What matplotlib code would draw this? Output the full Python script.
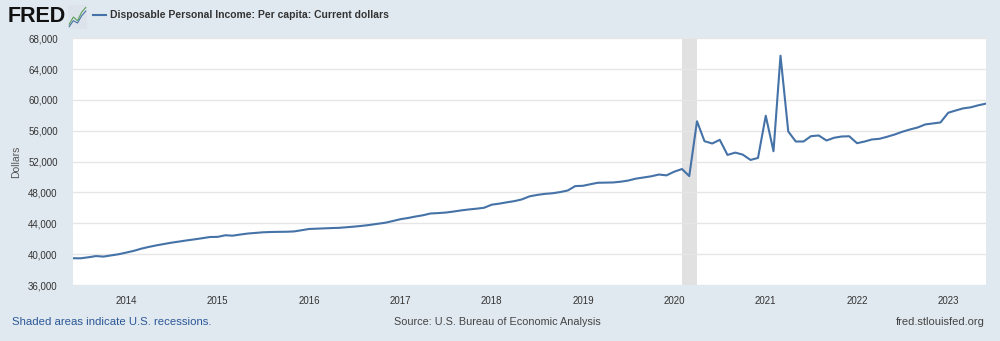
import numpy as np
import pandas as pd
import matplotlib
matplotlib.use('Agg')
import matplotlib.pyplot as plt
import matplotlib.dates as md
from matplotlib.ticker import FuncFormatter

plt.rcParams['font.family'] = ['Liberation Sans', 'DejaVu Sans']

# monthly series, Jun 2013 .. Jun 2023 (dollars, SAAR)
months = pd.date_range('2013-06-01', periods=121, freq='MS')
dspic = [
    39480, 39470, 39600, 39760, 39690, 39850, 40000,               # 2013 Jun-Dec
    40220, 40450, 40720, 40950, 41150, 41330, 41500, 41650, 41800, 41930, 42080, 42230,  # 2014
    42250, 42460, 42400, 42550, 42680, 42760, 42840, 42880, 42900, 42910, 42950, 43100,  # 2015
    43270, 43310, 43350, 43390, 43420, 43500, 43580, 43680, 43800, 43940, 44080, 44300,  # 2016
    44540, 44700, 44880, 45050, 45280, 45330, 45400, 45530, 45680, 45800, 45900, 46020,  # 2017
    46420, 46560, 46720, 46880, 47100, 47500, 47680, 47820, 47900, 48050, 48260, 48830,  # 2018
    48870, 49080, 49260, 49280, 49300, 49400, 49550, 49800, 49950, 50100, 50330, 50220,  # 2019
    50700, 51040, 50130, 57230, 54650, 54350, 54830, 52870, 53170, 52910, 52220, 52480,  # 2020
    57950, 53350, 65730, 55910, 54610, 54610, 55300, 55390, 54740, 55090, 55260, 55290,  # 2021
    54390, 54610, 54870, 54960, 55220, 55520, 55870, 56170, 56430, 56820, 56950, 57080,  # 2022
    58340, 58640, 58900, 59040, 59300, 59520,                       # 2023 Jan-Jun
]
recession_start = pd.Timestamp('2020-02-01')
recession_end = pd.Timestamp('2020-04-01')
year_ticks = pd.date_range('2014-01-01', '2023-01-01', freq='YS')
y_ticks = list(range(36000, 68001, 4000))

series_title = 'Disposable Personal Income: Per capita: Current dollars'
bg = '#e1e9f0'
line_col = '#4572a7'
txt_col = '#333333'

fig = plt.figure(figsize=(10, 3.41), dpi=100, facecolor=bg)
ax = fig.add_axes([0.073, 0.164, 0.913, 0.724])
ax.set_facecolor('white')

ax.axvspan(recession_start, recession_end, color='#e1e1e1', lw=0, zorder=1)
ax.plot(months, dspic, color=line_col, lw=1.5, zorder=3)

ax.set_xlim(months[0], months[-1])
ax.set_ylim(36000, 68000)
ax.set_yticks(y_ticks)
ax.yaxis.set_major_formatter(FuncFormatter(lambda v, p: f'{int(v):,}'))
ax.set_xticks(year_ticks)
ax.xaxis.set_major_formatter(md.DateFormatter('%Y'))
ax.grid(axis='y', color='#e6e6e6', lw=1, zorder=0)
ax.tick_params(length=0, labelsize=7, labelcolor=txt_col)
ax.tick_params(axis='x', pad=8)
ax.tick_params(axis='y', pad=11)
for s in ax.spines.values():
    s.set_visible(False)
ax.set_ylabel('Dollars', fontsize=7.5, color='#555555', labelpad=5)

# header: logo + legend
fig.text(0.008, 0.953, 'FRED', fontsize=15.5, fontweight='heavy', color='#111111',
         va='center', ha='left')
icon = fig.add_axes([0.068, 0.915, 0.019, 0.07])
icon.set_facecolor('#dde3ea')
icon.plot([0, 1, 2, 3, 4], [0.2, 0.5, 0.35, 0.7, 0.9], color='#5aa05a', lw=0.8)
icon.plot([0, 1, 2, 3, 4], [0.1, 0.35, 0.25, 0.55, 0.75], color='#4572a7', lw=0.8)
icon.set_xlim(-0.3, 4.3)
icon.set_ylim(0, 1)
icon.set_xticks([])
icon.set_yticks([])
for s in icon.spines.values():
    s.set_visible(False)
fig.add_artist(plt.Line2D([0.093, 0.106], [0.955, 0.955], color=line_col, lw=1.5))
fig.text(0.110, 0.955, series_title, fontsize=7.5, fontweight='bold', color=txt_col,
         va='center', ha='left')

# footer
fig.text(0.012, 0.055, 'Shaded areas indicate U.S. recessions.', fontsize=8.2,
         color='#2b5797', va='center', ha='left')
fig.text(0.497, 0.055, 'Source: U.S. Bureau of Economic Analysis', fontsize=7.8,
         color='#444444', va='center', ha='center')
fig.text(0.985, 0.055, 'fred.stlouisfed.org', fontsize=8, color='#444444',
         va='center', ha='right')

fig.savefig('out.png', dpi=100, facecolor=bg)
